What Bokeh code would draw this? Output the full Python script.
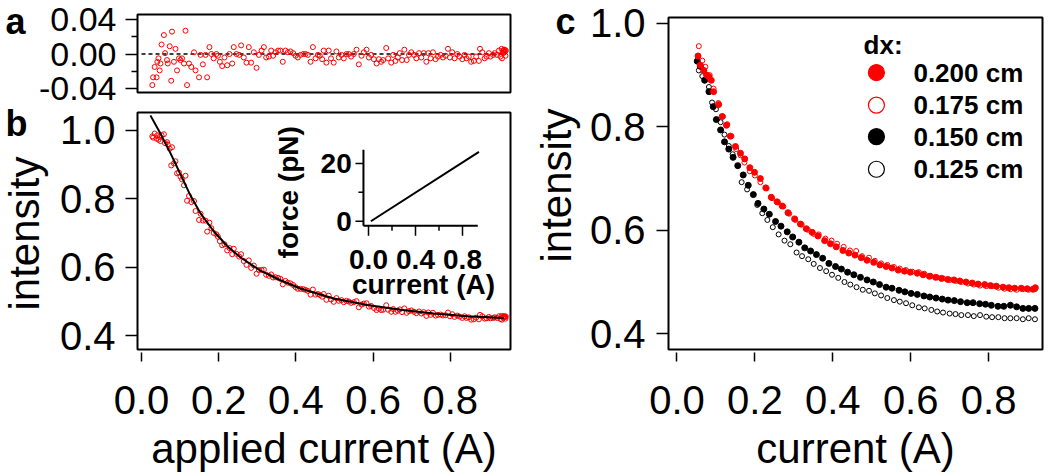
import math
from bokeh.plotting import figure
from bokeh.layouts import column
from bokeh.models import (Range1d, FixedTicker, NumeralTickFormatter, GridBox)
from bokeh.core.properties import value
from bokeh.embed import file_html
from bokeh.resources import INLINE

FONT = "Liberation Sans"
RED = "#ff0000"

# ---------------- panel a / b data ----------------
b_current = [
    0.028, 0.030, 0.034, 0.039, 0.041, 0.044, 0.047, 0.049, 0.052, 0.058,
    0.061, 0.066, 0.068, 0.073, 0.077, 0.079, 0.084, 0.088, 0.092, 0.097,
    0.101, 0.105, 0.110, 0.114, 0.118, 0.123, 0.129, 0.136, 0.140, 0.149,
    0.153, 0.159, 0.166, 0.170, 0.176, 0.181, 0.187, 0.194, 0.198, 0.203,
    0.209, 0.215, 0.222, 0.228, 0.235, 0.239, 0.246, 0.253, 0.258, 0.265,
    0.272, 0.278, 0.284, 0.291, 0.298, 0.304, 0.311, 0.317, 0.323, 0.330,
    0.336, 0.341, 0.347, 0.354, 0.360, 0.366, 0.373, 0.379, 0.386, 0.393,
    0.399, 0.405, 0.412, 0.419, 0.425, 0.431, 0.438, 0.444, 0.451, 0.457,
    0.462, 0.468, 0.472, 0.479, 0.485, 0.491, 0.498, 0.505, 0.511, 0.518,
    0.524, 0.531, 0.537, 0.543, 0.550, 0.557, 0.563, 0.570, 0.576, 0.583,
    0.589, 0.595, 0.602, 0.609, 0.615, 0.621, 0.626, 0.634, 0.639, 0.647,
    0.652, 0.658, 0.664, 0.669, 0.675, 0.681, 0.687, 0.693, 0.699, 0.706,
    0.712, 0.719, 0.725, 0.731, 0.738, 0.743, 0.749, 0.755, 0.762, 0.768,
    0.775, 0.781, 0.788, 0.794, 0.799, 0.805, 0.811, 0.818, 0.824, 0.831,
    0.837, 0.842, 0.848, 0.854, 0.861, 0.867, 0.874, 0.877, 0.883, 0.889,
    0.894, 0.900, 0.904, 0.911, 0.915, 0.921, 0.926, 0.930, 0.933, 0.934,
    0.936, 0.937, 0.938, 0.939, 0.940, 0.941, 0.942, 0.943, 0.944,
]
a_residual = [
    -0.036, -0.027, -0.015, -0.027, -0.009, -0.005, -0.019, -0.011, 0.011, 0.022,
    0.001, -0.007, -0.011, 0.009, -0.031, 0.026, -0.009, 0.006, -0.019, -0.005,
    -0.007, -0.005, -0.011, 0.027, -0.036, -0.011, -0.015, 0.002, -0.019, -0.027,
    -0.001, -0.012, -0.001, -0.027, 0.008, 0.000, -0.005, 0.000, -0.002, -0.009,
    -0.014, -0.004, -0.013, 0.000, -0.011, 0.008, 0.000, -0.001, 0.010, -0.004,
    -0.010, 0.008, -0.010, 0.002, -0.016, -0.001, 0.004, 0.008, -0.004, -0.003,
    0.004, -0.002, 0.002, 0.004, 0.004, -0.009, 0.004, 0.002, 0.003, 0.001,
    -0.002, -0.004, -0.001, 0.000, 0.000, -0.001, -0.009, 0.008, -0.005, -0.001,
    -0.002, -0.006, 0.004, -0.010, 0.004, -0.005, -0.010, 0.003, -0.004, -0.001,
    -0.005, 0.000, 0.000, -0.003, 0.000, 0.005, -0.012, -0.002, 0.002, 0.005,
    -0.004, -0.001, -0.006, -0.011, -0.006, -0.009, -0.007, 0.007, -0.005, -0.010,
    -0.001, -0.008, -0.004, 0.001, -0.007, 0.005, -0.007, -0.001, 0.002, -0.001,
    -0.005, 0.001, -0.004, 0.001, -0.009, 0.001, -0.005, 0.002, -0.006, -0.003,
    -0.001, -0.004, -0.002, 0.006, -0.004, 0.002, -0.005, 0.000, -0.003, -0.006,
    -0.001, -0.005, -0.003, -0.009, -0.008, -0.003, -0.008, 0.006, 0.002, -0.005,
    -0.003, 0.001, -0.003, -0.001, 0.001, -0.001, 0.004, -0.003, 0.006, -0.005,
    0.003, 0.001, 0.004, 0.005, 0.002, 0.005, 0.003, -0.002, 0.004,
]
b_intensity = [
    0.982, 0.978, 0.990, 0.975, 0.985, 0.972, 0.980, 0.968, 0.985, 0.988,
    0.962, 0.965, 0.958, 0.946, 0.897, 0.950, 0.903, 0.909, 0.874, 0.876,
    0.864, 0.856, 0.839, 0.867, 0.794, 0.808, 0.790, 0.793, 0.764, 0.738,
    0.756, 0.736, 0.736, 0.704, 0.730, 0.714, 0.700, 0.696, 0.689, 0.676,
    0.664, 0.667, 0.649, 0.656, 0.638, 0.654, 0.639, 0.631, 0.638, 0.618,
    0.607, 0.620, 0.598, 0.605, 0.581, 0.592, 0.592, 0.593, 0.578, 0.575,
    0.579, 0.570, 0.571, 0.569, 0.566, 0.550, 0.560, 0.555, 0.553, 0.548,
    0.542, 0.537, 0.537, 0.536, 0.534, 0.531, 0.520, 0.535, 0.520, 0.522,
    0.519, 0.514, 0.522, 0.505, 0.517, 0.506, 0.499, 0.510, 0.502, 0.504,
    0.498, 0.502, 0.500, 0.496, 0.498, 0.501, 0.483, 0.491, 0.494, 0.495,
    0.485, 0.487, 0.481, 0.475, 0.479, 0.475, 0.476, 0.489, 0.476, 0.470,
    0.478, 0.470, 0.473, 0.477, 0.469, 0.480, 0.467, 0.472, 0.474, 0.470,
    0.466, 0.471, 0.465, 0.469, 0.458, 0.468, 0.461, 0.467, 0.459, 0.461,
    0.462, 0.459, 0.460, 0.468, 0.457, 0.463, 0.455, 0.459, 0.456, 0.452,
    0.457, 0.452, 0.454, 0.447, 0.448, 0.453, 0.448, 0.461, 0.457, 0.450,
    0.451, 0.455, 0.451, 0.452, 0.454, 0.452, 0.457, 0.449, 0.458, 0.447,
    0.455, 0.453, 0.456, 0.457, 0.454, 0.457, 0.455, 0.450, 0.456,
]
fit_current = [0.023, 0.049, 0.075, 0.101, 0.127, 0.153, 0.187, 0.222, 0.256,
               0.308, 0.360, 0.412, 0.498, 0.585, 0.671, 0.757, 0.844, 0.939]
fit_intensity = [1.043, 0.990, 0.933, 0.871, 0.809, 0.757, 0.705, 0.662, 0.629,
                 0.590, 0.562, 0.538, 0.509, 0.490, 0.476, 0.465, 0.457, 0.452]
zero_line_current = [0.0, 0.94]
zero_line_value = [0.0, 0.0]

a_yticks = [-0.04, 0.0, 0.04]
a_yminor = [-0.02, 0.02]
b_xticks = [0.0, 0.2, 0.4, 0.6, 0.8]
b_yticks = [0.4, 0.6, 0.8, 1.0]

# inset (force vs current)
inset_current = [0.02, 0.94]
inset_force = [0.0, 24.0]
inset_xticks_major = [0.0, 0.4, 0.8]
inset_xticks_minor = [0.2, 0.6]
inset_xlabels = ["0.0", "0.4", "0.8"]
inset_yticks_major = [0.0, 20.0]
inset_yticks_minor = [10.0]
inset_ylabels = ["0", "20"]

# ---------------- panel c data ----------------
c_x_200 = [0.054, 0.060, 0.069, 0.076, 0.082, 0.088, 0.094, 0.107, 0.116, 0.127,
           0.137, 0.150, 0.163, 0.174, 0.187, 0.199, 0.214, 0.228, 0.242, 0.257,
           0.270, 0.285, 0.302, 0.317, 0.332, 0.347, 0.362, 0.379, 0.394, 0.409,
           0.426, 0.441, 0.457, 0.473, 0.488, 0.505, 0.521, 0.537, 0.552, 0.568,
           0.584, 0.599, 0.617, 0.632, 0.648, 0.664, 0.679, 0.695, 0.711, 0.726,
           0.742, 0.758, 0.773, 0.790, 0.805, 0.820, 0.837, 0.852, 0.867, 0.884,
           0.899, 0.914, 0.920]
c_y_200 = [0.937, 0.919, 0.909, 0.900, 0.897, 0.890, 0.868, 0.843, 0.820, 0.803,
           0.782, 0.762, 0.749, 0.738, 0.721, 0.712, 0.700, 0.682, 0.664, 0.655,
           0.647, 0.634, 0.622, 0.612, 0.603, 0.596, 0.589, 0.580, 0.574, 0.568,
           0.561, 0.556, 0.552, 0.547, 0.542, 0.538, 0.533, 0.530, 0.527, 0.523,
           0.521, 0.519, 0.517, 0.514, 0.511, 0.509, 0.507, 0.505, 0.504, 0.502,
           0.500, 0.498, 0.496, 0.495, 0.493, 0.492, 0.490, 0.489, 0.488, 0.488,
           0.487, 0.486, 0.489]
c_x_175 = [0.056, 0.065, 0.073, 0.084, 0.094, 0.106, 0.118, 0.129, 0.140, 0.152,
           0.163, 0.173, 0.187, 0.200, 0.214, 0.230, 0.244, 0.259, 0.273, 0.288,
           0.304, 0.320, 0.336, 0.351, 0.364, 0.381, 0.397, 0.411, 0.428, 0.444,
           0.460, 0.475, 0.493, 0.508, 0.524, 0.540, 0.557, 0.572, 0.588, 0.604,
           0.621, 0.635, 0.651, 0.668, 0.683, 0.700, 0.715, 0.730, 0.747, 0.762,
           0.778, 0.794, 0.809, 0.825, 0.841, 0.856, 0.872, 0.888, 0.903, 0.919]
c_y_175 = [0.956, 0.928, 0.916, 0.900, 0.874, 0.846, 0.820, 0.805, 0.782, 0.757,
           0.745, 0.731, 0.714, 0.706, 0.693, 0.681, 0.662, 0.654, 0.646, 0.632,
           0.620, 0.611, 0.601, 0.593, 0.592, 0.584, 0.580, 0.574, 0.568, 0.561,
           0.560, 0.550, 0.547, 0.541, 0.536, 0.533, 0.529, 0.526, 0.523, 0.520,
           0.519, 0.516, 0.512, 0.509, 0.507, 0.504, 0.502, 0.500, 0.497, 0.495,
           0.493, 0.492, 0.492, 0.489, 0.487, 0.486, 0.485, 0.486, 0.485, 0.486]
c_x_150 = [0.052, 0.060, 0.071, 0.082, 0.093, 0.101, 0.112, 0.122, 0.133, 0.144,
           0.156, 0.170, 0.183, 0.196, 0.208, 0.223, 0.237, 0.253, 0.267, 0.283,
           0.297, 0.313, 0.328, 0.343, 0.358, 0.374, 0.390, 0.407, 0.422, 0.438,
           0.454, 0.471, 0.488, 0.504, 0.520, 0.537, 0.552, 0.570, 0.585, 0.601,
           0.617, 0.634, 0.649, 0.665, 0.681, 0.696, 0.712, 0.728, 0.745, 0.760,
           0.777, 0.792, 0.807, 0.824, 0.839, 0.856, 0.872, 0.888, 0.903, 0.919]
c_y_150 = [0.927, 0.917, 0.890, 0.868, 0.839, 0.814, 0.794, 0.771, 0.757, 0.741,
           0.725, 0.707, 0.687, 0.669, 0.652, 0.641, 0.631, 0.617, 0.608, 0.597,
           0.587, 0.577, 0.566, 0.560, 0.553, 0.546, 0.536, 0.530, 0.525, 0.519,
           0.514, 0.509, 0.504, 0.500, 0.495, 0.490, 0.488, 0.484, 0.481, 0.478,
           0.476, 0.473, 0.471, 0.469, 0.467, 0.465, 0.464, 0.462, 0.460, 0.460,
           0.458, 0.457, 0.455, 0.453, 0.453, 0.455, 0.452, 0.449, 0.449, 0.449]
c_x_125 = [0.056, 0.065, 0.082, 0.090, 0.100, 0.112, 0.122, 0.133, 0.143, 0.166,
           0.180, 0.206, 0.219, 0.232, 0.246, 0.261, 0.276, 0.291, 0.307, 0.321,
           0.337, 0.351, 0.367, 0.383, 0.398, 0.414, 0.430, 0.445, 0.461, 0.477,
           0.493, 0.508, 0.524, 0.540, 0.557, 0.572, 0.588, 0.604, 0.621, 0.636,
           0.653, 0.668, 0.683, 0.700, 0.715, 0.730, 0.747, 0.762, 0.778, 0.794,
           0.809, 0.825, 0.841, 0.856, 0.872, 0.888, 0.903, 0.919]
c_y_125 = [0.909, 0.898, 0.877, 0.847, 0.834, 0.809, 0.785, 0.763, 0.747, 0.693,
           0.679, 0.649, 0.633, 0.620, 0.606, 0.592, 0.580, 0.573, 0.557, 0.550,
           0.544, 0.535, 0.527, 0.521, 0.514, 0.508, 0.500, 0.495, 0.490, 0.485,
           0.483, 0.478, 0.474, 0.469, 0.465, 0.462, 0.459, 0.455, 0.451, 0.449,
           0.446, 0.443, 0.441, 0.439, 0.438, 0.436, 0.436, 0.434, 0.436, 0.433,
           0.432, 0.432, 0.430, 0.430, 0.430, 0.428, 0.430, 0.428]
c_labels = ["0.200 cm", "0.175 cm", "0.150 cm", "0.125 cm"]
c_legend_title = "dx:"
c_xticks = [0.0, 0.2, 0.4, 0.6, 0.8]
c_yticks = [0.4, 0.6, 0.8, 1.0]

y_axis_title = "intensity"

TOTAL_H = 474
LEFT_W, RIGHT_W = 525, 521


def base_style(p):
    p.grid.visible = False
    p.outline_line_color = "black"
    p.outline_line_width = 2
    p.background_fill_color = "white"
    p.border_fill_color = "white"


def style_axis(ax, size, tick_in=0, tick_out=12, standoff=8, label_standoff=0):
    ax.axis_line_color = None
    ax.major_tick_line_color = "black"
    ax.major_tick_line_width = 1.5
    ax.major_tick_in = tick_in
    ax.major_tick_out = tick_out
    ax.minor_tick_line_color = "black"
    ax.minor_tick_line_width = 1.5
    ax.minor_tick_in = 0
    ax.minor_tick_out = 6
    ax.major_label_text_font = FONT
    ax.major_label_text_font_size = size
    ax.major_label_text_color = "black"
    ax.major_label_standoff = standoff
    ax.axis_label_text_font = FONT
    ax.axis_label_text_font_size = "42px"
    ax.axis_label_text_font_style = "normal"
    ax.axis_label_text_color = "black"
    ax.axis_label_standoff = label_standoff


def overlay(width):
    """Transparent figure laid over a layout cell, for free-standing texts."""
    o = figure(width=width, height=TOTAL_H, x_range=Range1d(0, width),
               y_range=Range1d(TOTAL_H, 0), output_backend="svg", title=None,
               toolbar_location=None, min_border=0)
    o.axis.visible = False
    o.grid.visible = False
    o.outline_line_color = None
    o.background_fill_color = None
    o.border_fill_color = None
    return o


def overlay_text(o, x, y, txt, size, bold=False, angle=0.0, align="left"):
    o.text(x=[x], y=[y], text=[txt], angle=angle, text_font=value(FONT),
           text_font_size=size, text_font_style="bold" if bold else "normal",
           text_align=align, text_baseline="middle", text_color="black")


# ---------------- panel a ----------------
pa = figure(width=LEFT_W, height=108, x_range=Range1d(-0.0104, 0.956),
            y_range=Range1d(-0.0446, 0.0458), output_backend="svg",
            toolbar_location=None, min_border_left=137, min_border_right=15,
            min_border_top=14, min_border_bottom=16)
base_style(pa)
pa.xaxis.visible = False
style_axis(pa.yaxis[0], "34px", standoff=9)
pa.yaxis[0].ticker = FixedTicker(ticks=a_yticks, minor_ticks=a_yminor)
pa.yaxis[0].formatter = NumeralTickFormatter(format="0.00")
pa.line(zero_line_current, zero_line_value, line_color="black", line_width=1.5,
        line_dash="4 3")
pa.scatter(b_current, a_residual, marker="circle", size=5, fill_color=None,
           line_color=RED, line_width=1)

# ---------------- panel b ----------------
pb = figure(width=LEFT_W, height=TOTAL_H - 108, x_range=Range1d(-0.0104, 0.956),
            y_range=Range1d(0.36, 1.0514), output_backend="svg",
            toolbar_location=None, min_border_left=137, min_border_right=15,
            min_border_top=4, min_border_bottom=120,
            x_axis_label="applied current (A)")
base_style(pb)
style_axis(pb.xaxis[0], "40px", tick_in=-3, tick_out=12, standoff=24, label_standoff=8)
style_axis(pb.yaxis[0], "40px", standoff=10)
pb.xaxis[0].ticker = FixedTicker(ticks=b_xticks, minor_ticks=[])
pb.yaxis[0].ticker = FixedTicker(ticks=b_yticks, minor_ticks=[])
pb.xaxis[0].formatter = NumeralTickFormatter(format="0.0")
pb.yaxis[0].formatter = NumeralTickFormatter(format="0.0")
pb.scatter(b_current, b_intensity, marker="circle", size=5, fill_color=None,
           line_color=RED, line_width=1)
pb.line(fit_current, fit_intensity, line_color="black", line_width=2)

# inset, drawn in its own ranges inside panel b
pb.extra_x_ranges = {"ix": Range1d(-1.966, 1.2085)}
pb.extra_y_ranges = {"iy": Range1d(-44.4, 37.63)}
IX, IY = "ix", "iy"
ax_x = -0.043   # position of inset y-axis (current units)
ax_y = -1.6     # position of inset x-axis (force units)
pb.segment(x0=[ax_x, ax_x], y0=[ax_y, ax_y], x1=[ax_x, 0.93], y1=[24.7, ax_y],
           line_color="black", line_width=2, x_range_name=IX, y_range_name=IY)
pb.segment(x0=inset_xticks_major, y0=[ax_y] * len(inset_xticks_major),
           x1=inset_xticks_major, y1=[ax_y - 3.4] * len(inset_xticks_major),
           line_color="black", line_width=1.5, x_range_name=IX, y_range_name=IY)
pb.segment(x0=inset_xticks_minor, y0=[ax_y] * len(inset_xticks_minor),
           x1=inset_xticks_minor, y1=[ax_y - 1.7] * len(inset_xticks_minor),
           line_color="black", line_width=1.5, x_range_name=IX, y_range_name=IY)
pb.segment(x0=[ax_x] * len(inset_yticks_major), y0=inset_yticks_major,
           x1=[ax_x - 0.068] * len(inset_yticks_major), y1=inset_yticks_major,
           line_color="black", line_width=1.5, x_range_name=IX, y_range_name=IY)
pb.segment(x0=[ax_x] * len(inset_yticks_minor), y0=inset_yticks_minor,
           x1=[ax_x - 0.043] * len(inset_yticks_minor), y1=inset_yticks_minor,
           line_color="black", line_width=1.5, x_range_name=IX, y_range_name=IY)
pb.line(inset_current, inset_force, line_color="black", line_width=2,
        x_range_name=IX, y_range_name=IY)
pb.text(x=inset_xticks_major, y=[-13.2] * 3, text=inset_xlabels,
        text_font=value(FONT), text_font_size="28px", text_font_style="bold",
        text_align="center", text_baseline="alphabetic", text_color="black",
        x_range_name=IX, y_range_name=IY)
pb.text(x=[ax_x - 0.1] * 2, y=inset_yticks_major, text=inset_ylabels,
        text_font=value(FONT), text_font_size="28px", text_font_style="bold",
        text_align="right", text_baseline="middle", text_color="black",
        x_range_name=IX, y_range_name=IY)
pb.text(x=[0.468], y=[-22.0], text=["current (A)"],
        text_font=value(FONT), text_font_size="28px", text_font_style="bold",
        text_align="center", text_baseline="alphabetic", text_color="black",
        x_range_name=IX, y_range_name=IY)
pb.text(x=[-0.683], y=[10.0], text=["force (pN)"], angle=math.pi / 2,
        text_font=value(FONT), text_font_size="28px", text_font_style="bold",
        text_align="center", text_baseline="middle", text_color="black",
        x_range_name=IX, y_range_name=IY)

# ---------------- panel c ----------------
pc = figure(width=RIGHT_W, height=TOTAL_H, x_range=Range1d(-0.0218, 0.9384),
            y_range=Range1d(0.3695, 1.0114), output_backend="svg",
            toolbar_location=None, min_border_left=143, min_border_right=4,
            min_border_top=17, min_border_bottom=120,
            x_axis_label="current (A)")
base_style(pc)
style_axis(pc.xaxis[0], "40px", tick_in=-3, tick_out=12, standoff=24, label_standoff=8)
style_axis(pc.yaxis[0], "40px", standoff=11)
pc.xaxis[0].ticker = FixedTicker(ticks=c_xticks, minor_ticks=[])
pc.yaxis[0].ticker = FixedTicker(ticks=c_yticks, minor_ticks=[])
pc.xaxis[0].formatter = NumeralTickFormatter(format="0.0")
pc.yaxis[0].formatter = NumeralTickFormatter(format="0.0")

pc.scatter(c_x_125, c_y_125, marker="circle", size=5, fill_color=None,
           line_color="black", line_width=1)
pc.scatter(c_x_150, c_y_150, marker="circle", size=6, fill_color="black",
           line_color="black", line_width=1)
pc.scatter(c_x_175, c_y_175, marker="circle", size=5, fill_color=None,
           line_color=RED, line_width=1)
pc.scatter(c_x_200, c_y_200, marker="circle", size=6, fill_color=RED,
           line_color=RED, line_width=1)

# legend key inside the frame
leg_mark_x = 0.512
leg_text_x = 0.607
leg_title_x = 0.479
leg_rows_y = [0.905, 0.842, 0.781, 0.718]
leg_title_y = 0.959
leg_fill = [RED, None, "black", None]
leg_line = [RED, RED, "black", "black"]
for yy, fc, lc in zip(leg_rows_y, leg_fill, leg_line):
    pc.scatter([leg_mark_x], [yy], marker="circle", size=16, fill_color=fc,
               line_color=lc, line_width=1.2)
pc.text(x=[leg_text_x] * 4, y=leg_rows_y, text=c_labels, text_font=value(FONT),
        text_font_size="26px", text_font_style="bold", text_align="left",
        text_baseline="middle", text_color="black")
pc.text(x=[leg_title_x], y=[leg_title_y], text=[c_legend_title], text_font=value(FONT),
        text_font_size="26px", text_font_style="bold", text_align="left",
        text_baseline="middle", text_color="black")

# ---------------- overlays: panel letters and y-axis titles ----------------
ov_left = overlay(LEFT_W)
overlay_text(ov_left, 5, 21, "a", "36px", bold=True)
overlay_text(ov_left, 5, 123, "b", "36px", bold=True)
overlay_text(ov_left, 24, 233, y_axis_title, "42px", angle=math.pi / 2, align="center")

ov_right = overlay(RIGHT_W)
overlay_text(ov_right, 30, 21, "c", "36px", bold=True)
overlay_text(ov_right, 31, 185, y_axis_title, "42px", angle=math.pi / 2, align="center")

# each cell is wrapped in a column so that no plot frames get aligned across cells
layout = GridBox(children=[(column(pa, pb), 0, 0), (column(pc), 0, 1),
                           (column(ov_left), 0, 0), (column(ov_right), 0, 1)])

with open("out.html", "w") as f:
    f.write(file_html(layout, INLINE))
